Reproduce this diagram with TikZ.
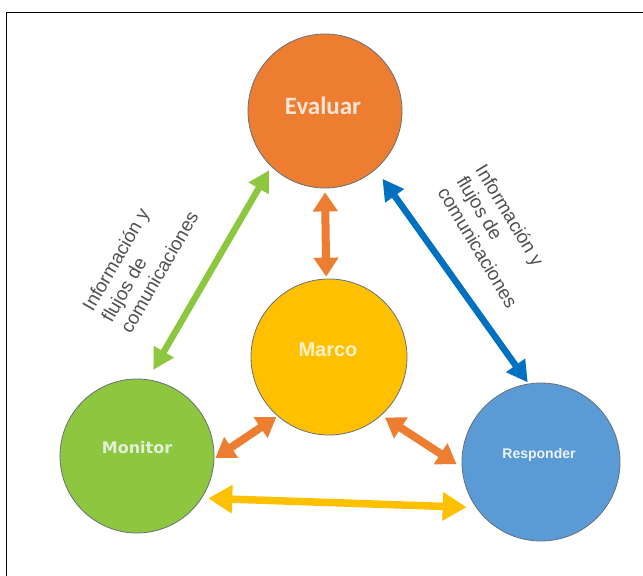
\documentclass[tikz,border=0pt]{standalone}
\usepackage{fontspec}
\setmainfont{Liberation Sans}
\newfontfamily\carlitofont{Carlito}
\newfontfamily\dejavufont{DejaVu Sans}
\usetikzlibrary{arrows.meta}

\definecolor{cOrange}{RGB}{237,125,49}
\definecolor{cGold}{RGB}{255,192,0}
\definecolor{cGreen}{RGB}{141,198,63}
\definecolor{cBlue}{RGB}{91,155,213}
\definecolor{cDeepBlue}{RGB}{0,112,192}
\definecolor{cRim}{RGB}{105,112,120}
\definecolor{cNote}{RGB}{80,80,80}

\begin{document}
\begin{tikzpicture}[x=1pt,y=-1pt,
  disc/.style={circle, draw=cRim, line width=0.8pt, minimum size=#1, inner sep=0pt},
  disctitle/.style={anchor=base, inner sep=0pt},
  note/.style={align=left, text=cNote, inner sep=0pt,
    font=\fontsize{19}{22}\selectfont},
  twoway/.style n args={3}{line width=#1,
    {Triangle[width=#2,length=#3]}-{Triangle[width=#2,length=#3]}},
  greenlink/.style={draw=cGreen, twoway={6.5pt}{22pt}{21pt}},
  bluelink/.style={draw=cDeepBlue, twoway={6.5pt}{22pt}{21pt}},
  orangelink/.style={draw=cOrange, twoway={8pt}{24pt}{19pt}},
  goldlink/.style={draw=cGold, twoway={7.5pt}{27pt}{24pt}}
]
\useasboundingbox (0,0) rectangle (643,576);

% frame
\draw[line width=1pt] (6,576) -- (6,12) -- (643,12);

% circles
\node[disc=154pt, fill=cOrange] (eva) at (325,111) {};
\node[disc=156pt, fill=cGold]   (mar) at (329,357) {};
\node[disc=154pt, fill=cGreen]  (mon) at (137,456) {};
\node[disc=158pt, fill=cBlue]   (res) at (541,462) {};

% circle captions
\node[disctitle, text={rgb,255:red,252;green,228;blue,214},
  font=\carlitofont\bfseries\fontsize{25}{30}\selectfont] (evaT) at (323,114) {Evaluar};
\node[disctitle, text={rgb,255:red,255;green,242;blue,204},
  font=\bfseries\fontsize{20}{24}\selectfont] (marT) at (328,356) {Marco};
\node[disctitle, text={rgb,255:red,226;green,240;blue,217},
  font=\dejavufont\bfseries\fontsize{16}{19}\selectfont] (monT) at (137,453) {Monitor};
\node[disctitle, text={rgb,255:red,236;green,243;blue,250},
  font=\bfseries\fontsize{14}{17}\selectfont] (resT) at (539,458) {Responder};

% side notes
\node[note, rotate=60]  (noteL) at (140,261) {Información y\\flujos de\\comunicaciones};
\node[note, rotate=-59] (noteR) at (497,236) {Información y\\flujos de\\comunicaciones};

% connectors
\draw[greenlink, shorten <=11pt, shorten >=4pt]   (mon.82.3)  -- (eva.226.4);
\draw[bluelink, shorten <=11.5pt, shorten >=1.4pt] (eva.311.8) -- (res.99.6);
\draw[orangelink, shorten <=4pt, shorten >=2pt]    (eva.270)   -- (mar.92.9);
\draw[orangelink, shorten <=1.3pt, shorten >=1.5pt] (mon.358)  -- (mar.229.4);
\draw[orangelink, shorten <=4.2pt, shorten >=6.3pt] (mar.312.3) -- (res.184.7);
\draw[goldlink, shorten <=6.3pt, shorten >=9.3pt]  (mon.327.1) -- (res.215);
\end{tikzpicture}
\end{document}
